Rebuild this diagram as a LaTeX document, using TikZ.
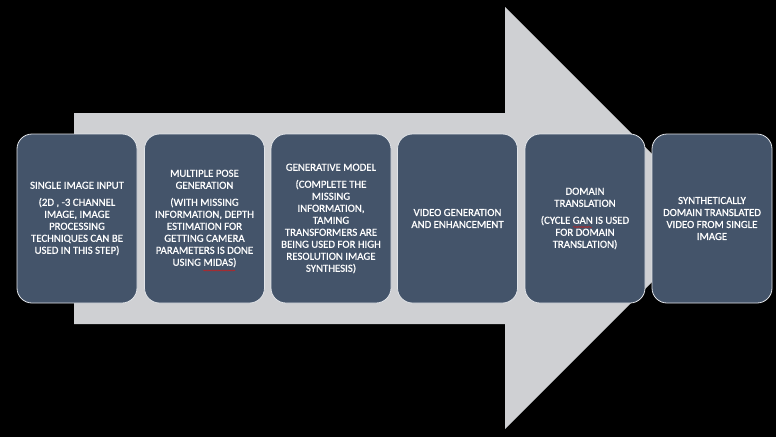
\documentclass[tikz,border=0pt]{standalone}
\usepackage{fontspec}
\setmainfont{Carlito}
\newfontface\stepfont{Carlito}[FakeBold=0.8]
\usetikzlibrary{decorations.pathmorphing}
\definecolor{arrowgray}{RGB}{207,208,211}
\definecolor{stepblue}{RGB}{68,84,106}
\definecolor{stepline}{RGB}{225,228,232}
\definecolor{spellred}{RGB}{200,30,30}
\begin{document}
\begin{tikzpicture}[x=1pt,y=-1pt,
	stepbox/.style={draw=stepline, line width=0.8pt, fill=stepblue, rounded corners=15pt,
		minimum width=120pt, minimum height=169pt, inner sep=0pt,
		text=white, align=center, font=\stepfont\fontsize{10.8}{12}\selectfont},
	squiggle/.style={draw=spellred, line width=0.5pt,
		decorate, decoration={snake, amplitude=0.6pt, segment length=2.5pt}}]
% background and big arrow
\fill[black] (0,0) rectangle (776,437);
\useasboundingbox (0,0) rectangle (776,437);
\fill[arrowgray] (74,113) -- (505,113) -- (505,7) -- (716,218) -- (505,429) -- (505,324) -- (74,324) -- cycle;

% steps
\node at (77, 218.5)[stepbox](S1){SINGLE IMAGE INPUT\\[5pt](2D , -3 CHANNEL\\IMAGE, IMAGE\\PROCESSING\\TECHNIQUES CAN BE\\USED IN THIS STEP)};
\node at (204.5, 218.5)[stepbox](S2){MULTIPLE POSE\\GENERATION\\[5pt](WITH MISSING\\INFORMATION, DEPTH\\ESTIMATION FOR\\GETTING CAMERA\\PARAMETERS IS DONE\\USING MIDAS)};
\node at (331, 218.5)[stepbox](S3){GENERATIVE MODEL\\[5pt](COMPLETE THE\\MISSING\\INFORMATION,\\TAMING\\TRANSFORMERS ARE\\BEING USED FOR HIGH\\RESOLUTION IMAGE\\SYNTHESIS)};
\node at (457.5, 218.5)[stepbox](S4){VIDEO GENERATION\\AND ENHANCEMENT};
\node at (585, 218.5)[stepbox](S5){DOMAIN\\TRANSLATION\\[5pt](CYCLE GAN IS USED\\FOR DOMAIN\\TRANSLATION)};
\node at (712, 218.5)[stepbox](S6){SYNTHETICALLY\\DOMAIN TRANSLATED\\VIDEO FROM SINGLE\\IMAGE};

% spell check marks
\draw[squiggle] (203, 270.5) -- (235, 270.5);
\draw[squiggle] (573, 227) -- (592, 227);
\end{tikzpicture}
\end{document}
